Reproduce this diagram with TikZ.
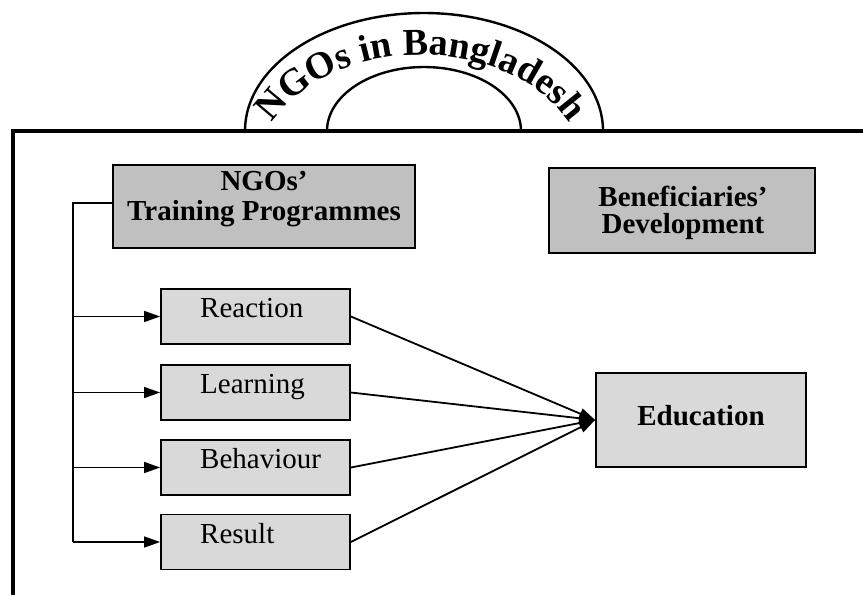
\documentclass[tikz,border=0pt]{standalone}
\usepackage{fontspec}
\setmainfont{Liberation Serif}
\usetikzlibrary{arrows.meta,decorations.text}
\definecolor{hdrgray}{RGB}{192,192,192}
\definecolor{boxgray}{RGB}{217,217,217}
\begin{document}
\begin{tikzpicture}[x=1pt,y=-1pt,
  hdr/.style={draw,line width=1.8pt,fill=hdrgray,inner sep=0pt},
  sbox/.style={draw,line width=1.8pt,fill=boxgray,minimum width=189pt,minimum height=55pt,inner sep=0pt},
  blbl/.style={font=\fontsize{29pt}{30pt}\selectfont\bfseries,anchor=base,inner sep=0pt},
  lbl/.style={font=\fontsize{29pt}{30pt}\selectfont,anchor=base west,inner sep=0pt},
  conn/.style={line width=1.5pt},
  link/.style={line width=1.8pt,-{Triangle[length=16pt,width=11pt]}},
  arr/.style={line width=1.5pt,-{Triangle[length=16pt,width=11pt]}}]
\useasboundingbox (0,0) rectangle (863,595);

% frame
\draw[line width=3.3pt] (863,131) -- (13,131) -- (13,595);

% arch
\draw[line width=2.4pt] (245,131) arc[start angle=180,end angle=0,x radius=179pt,y radius=118pt];
\draw[line width=2.4pt] (327,131) arc[start angle=180,end angle=0,x radius=97pt,y radius=64pt];
\coordinate (archc) at (421,175);
\path[decorate,decoration={text along path,text align=center,
  text={|\fontsize{38pt}{40pt}\selectfont\bfseries|NGOs in Bangladesh}}]
  ([shift={(162:165pt and 120pt)}]archc) arc[start angle=162,end angle=18,x radius=165pt,y radius=120pt];

% header boxes
\node[hdr,minimum width=302pt,minimum height=83pt] (ngo) at (264,206.5) {};
\node[blbl] (ngot1) at (264,190) {NGOs’};
\node[blbl] (ngot2) at (264,220) {Training Programmes};
\node[hdr,minimum width=266pt,minimum height=85pt] (ben) at (682,210.5) {};
\node[blbl] (bent1) at (683,206) {Beneficiaries’};
\node[blbl] (bent2) at (683,233) {Development};

% small boxes
\node[sbox] (rea) at (255.5,316.5) {};
\node[sbox] (lea) at (255.5,392.5) {};
\node[sbox] (beh) at (255.5,467.5) {};
\node[sbox] (res) at (255.5,542) {};
\node[lbl] (reat) at (200,317) {Reaction};
\node[lbl] (leat) at (200,393) {Learning};
\node[lbl] (beht) at (200,468) {Behaviour};
\node[lbl] (rest) at (200,543) {Result};

% education
\node[draw,line width=1.8pt,fill=boxgray,minimum width=210pt,minimum height=94pt,inner sep=0pt] (edu) at (701,420) {};
\node[blbl] (edut) at (701,425) {Education};

% trunk
\coordinate (trunk) at (73,203);
\draw[conn] (ngo.west |- trunk) -- (trunk) -- (trunk |- res.west);
\draw[arr] (trunk |- rea.west) -- (rea.west);
\draw[arr] (trunk |- lea.west) -- (lea.west);
\draw[arr] (trunk |- beh.west) -- (beh.west);
\draw[arr] (trunk |- res.west) -- (res.west);

% links to education
\draw[link] (rea.east) -- (edu.west);
\draw[link] (lea.east) -- (edu.west);
\draw[link] (beh.east) -- (edu.west);
\draw[link] (res.east) -- (edu.west);
\end{tikzpicture}
\end{document}
